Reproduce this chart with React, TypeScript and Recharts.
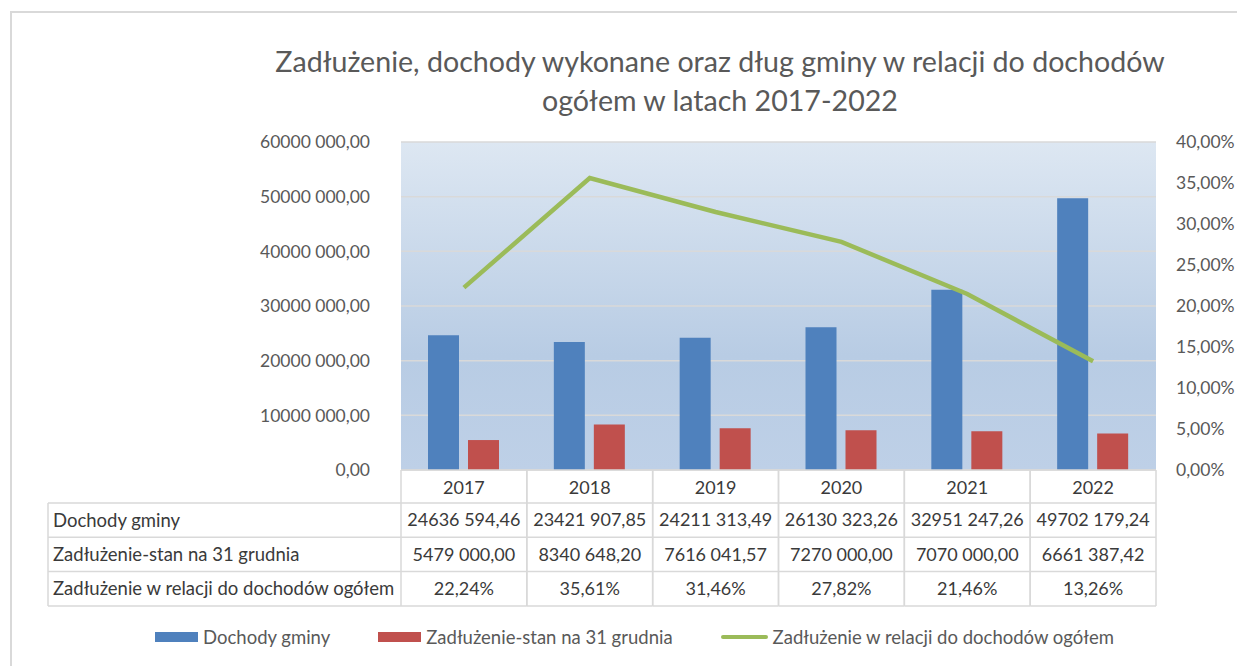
import {
  ComposedChart,
  Bar,
  Line,
  XAxis,
  YAxis,
  CartesianGrid,
  Legend,
} from "recharts";

const years = ["2017", "2018", "2019", "2020", "2021", "2022"];
const dochody = [24636594.46, 23421907.85, 24211313.49, 26130323.26, 32951247.26, 49702179.24];
const zadluzenie = [5479000.0, 8340648.2, 7616041.57, 7270000.0, 7070000.0, 6661387.42];
const relacja = [22.24, 35.61, 31.46, 27.82, 21.46, 13.26];
const leftTicks = [0, 10000000, 20000000, 30000000, 40000000, 50000000, 60000000];
const rightTicks = [0, 5, 10, 15, 20, 25, 30, 35, 40];

const seriesNames = ["Dochody gminy", "Zadłużenie-stan na 31 grudnia", "Zadłużenie w relacji do dochodów ogółem"];

const data = years.map((year, i) => ({
  year,
  dochody: dochody[i],
  zadluzenie: zadluzenie[i],
  relacja: relacja[i],
}));

const FONT = "Lato, 'Noto Sans', sans-serif";
const GRID = "#d9d9d9";
const TEXT = "#595959";

const PLOT_LEFT = 401;
const PLOT_RIGHT = 1156;
const COL_W = (PLOT_RIGHT - PLOT_LEFT) / years.length;
const TABLE_LEFT = 48;
const HEAD_H = 33;
const ROW_H = 34.3;

// "24636 594,46" - excel style, only the last thousand group is split
const formatMoney = (v: number) => {
  const [int, dec] = v.toFixed(2).split(".");
  if (int.length <= 3) return `${int},${dec}`;
  return `${int.slice(0, -3)} ${int.slice(-3)},${dec}`;
};
const formatPct = (v: number) => `${v.toFixed(2).replace(".", ",")}%`;

const TableTick = (props: any) => {
  const { x, y, index } = props;
  const top = y;
  const bottom = top + HEAD_H + ROW_H * 3;
  const l = x - COL_W / 2;
  const r = x + COL_W / 2;
  const rows = [formatMoney(dochody[index]), formatMoney(zadluzenie[index]), formatPct(relacja[index])];
  return (
    <g fontFamily={FONT} fontSize={18} fill="#3a3a3a">
      {index === 0 && (
        <g>
          <line x1={TABLE_LEFT} x2={TABLE_LEFT} y1={top + HEAD_H} y2={bottom} stroke={GRID} strokeWidth={1.5} />
          {[0, 1, 2, 3].map((k) => (
            <line
              key={k}
              x1={TABLE_LEFT}
              x2={l}
              y1={top + HEAD_H + ROW_H * k}
              y2={top + HEAD_H + ROW_H * k}
              stroke={GRID}
              strokeWidth={1.5}
            />
          ))}
          {seriesNames.map((name, k) => (
            <text
              key={name}
              x={TABLE_LEFT + 5}
              y={top + HEAD_H + ROW_H * k + ROW_H / 2}
              dy="0.35em"
              textAnchor="start"
              fontSize={18.5}
            >
              {name}
            </text>
          ))}
        </g>
      )}
      <line x1={l} x2={l} y1={top} y2={bottom} stroke={GRID} strokeWidth={1.5} />
      <line x1={r} x2={r} y1={top} y2={bottom} stroke={GRID} strokeWidth={1.5} />
      {[0, 1, 2, 3, 4].map((k) => {
        const yy = k === 0 ? top : top + HEAD_H + ROW_H * (k - 1);
        return <line key={k} x1={l} x2={r} y1={yy} y2={yy} stroke={GRID} strokeWidth={1.5} />;
      })}
      <text x={x} y={top + HEAD_H / 2 + 1} dy="0.35em" textAnchor="middle">
        {years[index]}
      </text>
      {rows.map((v, k) => (
        <text key={k} x={x} y={top + HEAD_H + ROW_H * k + ROW_H / 2} dy="0.35em" textAnchor="middle">
          {v}
        </text>
      ))}
    </g>
  );
};

const ChartLegend = () => (
  <div
    style={{
      display: "flex",
      justifyContent: "center",
      alignItems: "center",
      gap: 48,
      fontFamily: FONT,
      fontSize: 18.5,
      color: TEXT,
      paddingLeft: 32,
    }}
  >
    <span style={{ display: "flex", alignItems: "center" }}>
      <span style={{ width: 43, height: 10, background: "#4f81bd", marginRight: 5 }} />
      {seriesNames[0]}
    </span>
    <span style={{ display: "flex", alignItems: "center" }}>
      <span style={{ width: 43, height: 10, background: "#c0504d", marginRight: 5 }} />
      {seriesNames[1]}
    </span>
    <span style={{ display: "flex", alignItems: "center" }}>
      <span style={{ width: 47, height: 4, borderRadius: 2, background: "#9bbb59", marginRight: 5 }} />
      {seriesNames[2]}
    </span>
  </div>
);

export default function App() {
  return (
    <div style={{ position: "absolute", left: 0, top: 0, width: 1237, height: 666, background: "#fff", overflow: "hidden" }}>
      <div
        style={{
          position: "absolute",
          left: 10,
          top: 11,
          width: 1300,
          height: 700,
          borderTop: `2px solid ${GRID}`,
          borderLeft: `2px solid ${GRID}`,
        }}
      />
      <div
        style={{
          position: "absolute",
          left: 220,
          width: 1000,
          top: 42,
          textAlign: "center",
          fontFamily: FONT,
          fontSize: 28.6,
          lineHeight: "39px",
          color: TEXT,
        }}
      >
        Zadłużenie, dochody wykonane oraz dług gminy w relacji do dochodów
        <br />
        ogółem w latach 2017-2022
      </div>
      <ComposedChart
        width={1237}
        height={666}
        data={data}
        margin={{ top: 142, right: 6, bottom: 60, left: 251 }}
        barSize={31}
        barGap={9}
        style={{ position: "absolute", left: 0, top: 0 }}
      >
        <defs>
          <linearGradient id="plotBg" x1="0" y1="0" x2="0" y2="1">
            <stop offset="0%" stopColor="#dde7f2" />
            <stop offset="65%" stopColor="#b8cce4" />
            <stop offset="100%" stopColor="#bed0e7" />
          </linearGradient>
        </defs>
        <CartesianGrid
          yAxisId="left"
          vertical={false}
          stroke={GRID}
          strokeWidth={1.5}
          fill="url(#plotBg)"
          fillOpacity={1}
        />
        <XAxis
          dataKey="year"
          axisLine={false}
          tickLine={false}
          tickSize={0}
          tickMargin={0}
          height={136}
          interval={0}
          tick={<TableTick />}
        />
        <YAxis
          yAxisId="left"
          domain={[0, 60000000]}
          ticks={leftTicks}
          tickFormatter={formatMoney}
          axisLine={false}
          tickLine={false}
          tickSize={0}
          tickMargin={31}
          width={150}
          tick={{ fill: TEXT, fontSize: 17.5, fontFamily: FONT }}
        />
        <YAxis
          yAxisId="right"
          orientation="right"
          domain={[0, 40]}
          ticks={rightTicks}
          tickFormatter={formatPct}
          axisLine={false}
          tickLine={false}
          tickSize={0}
          tickMargin={20}
          width={75}
          tick={{ fill: TEXT, fontSize: 17.5, fontFamily: FONT, textAnchor: "start" }}
        />
        <Bar yAxisId="left" dataKey="dochody" name={seriesNames[0]} fill="#4f81bd" isAnimationActive={false} />
        <Bar yAxisId="left" dataKey="zadluzenie" name={seriesNames[1]} fill="#c0504d" isAnimationActive={false} />
        <Line
          yAxisId="right"
          dataKey="relacja"
          name={seriesNames[2]}
          stroke="#9bbb59"
          strokeWidth={4.5}
          dot={false}
          activeDot={false}
          type="linear"
          isAnimationActive={false}
        />
        <Legend
          layout="horizontal"
          verticalAlign="middle"
          align="center"
          content={<ChartLegend />}
          wrapperStyle={{ top: 626, left: 0, width: 1237 }}
        />
      </ComposedChart>
    </div>
  );
}
